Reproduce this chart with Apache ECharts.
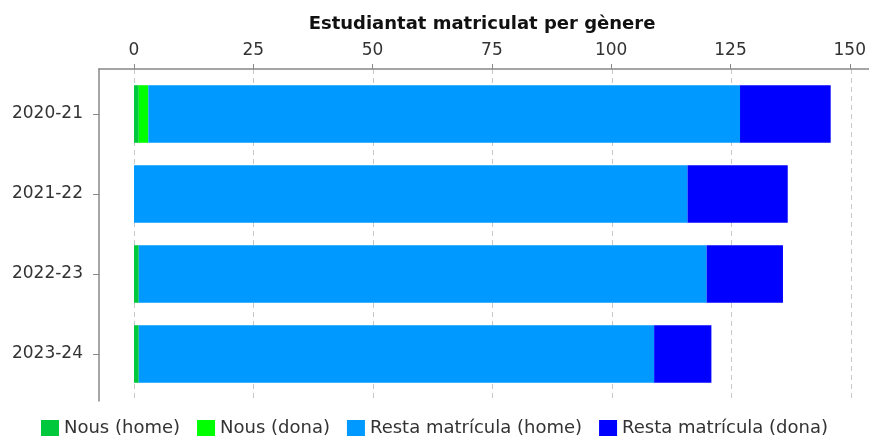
<!DOCTYPE html>
<html>
<head>
<meta charset="utf-8">
<script src="https://cdn.jsdelivr.net/npm/echarts@6/dist/echarts.min.js"></script>
<style>
  html, body { margin: 0; padding: 0; background: #fff; }
  #chart { width: 869px; height: 439px; }
</style>
</head>
<body>
<div id="chart"></div>
<script>
// dades
var years = ['2020-21', '2021-22', '2022-23', '2023-24']
var nousHome = [1, 0, 1, 1]
var nousDona = [2, 0, 0, 0]
var restaHome = [124, 116, 119, 108]
var restaDona = [19, 21, 16, 12]
var seriesNames = ['Nous (home)', 'Nous (dona)', 'Resta matrícula (home)', 'Resta matrícula (dona)']
var colors = ['#00c83c', '#00ff00', '#0099ff', '#0000ff']

var font = "'DejaVu Sans', 'Liberation Sans', Arial, sans-serif"
var myChart = echarts.init(document.getElementById('chart'))

function barSeries (i, data) {
  return {
    name: seriesNames[i],
    type: 'bar',
    stack: 'total',
    xAxisIndex: 0,
    yAxisIndex: 0,
    barCategoryGap: '28%',
    itemStyle: { color: colors[i] },
    data: data
  }
}

var option = {
  animation: false,
  textStyle: { fontFamily: font },
  title: {
    text: 'Estudiantat matriculat per gènere',
    left: 477,
    textAlign: 'center',
    top: 10,
    textStyle: { fontSize: 18, fontWeight: 'bold', color: '#111', fontFamily: font }
  },
  legend: {
    data: seriesNames,
    left: 'center',
    bottom: 2,
    padding: 0,
    icon: 'rect',
    itemWidth: 18,
    itemHeight: 16,
    itemGap: 17,
    textStyle: { fontSize: 18, color: '#333', fontFamily: font }
  },
  grid: [
    // dades
    { left: 134, right: 18, top: 74, bottom: 45 },
    // línies de quadrícula
    { left: 134, right: 18, top: 69, bottom: 38 },
    // marc
    { left: 99, right: 0, top: 69, bottom: 38 },
    // etiquetes de categoria
    { left: 99, right: 18, top: 74, bottom: 45 }
  ],
  xAxis: [
    {
      gridIndex: 0,
      type: 'value',
      position: 'top',
      offset: 5,
      min: 0,
      max: 150,
      interval: 25,
      axisLine: { show: false },
      axisTick: { show: true, length: 5, lineStyle: { color: '#888' } },
      axisLabel: { fontSize: 17, color: '#333', margin: 10 },
      splitLine: { show: false }
    },
    {
      gridIndex: 1,
      type: 'value',
      min: 0,
      max: 150,
      interval: 25,
      axisLine: { show: false },
      axisTick: { show: false },
      axisLabel: { show: false },
      splitLine: { show: true, lineStyle: { color: '#c8c8c8', type: [5, 4], width: 1 } }
    },
    {
      gridIndex: 2,
      type: 'value',
      position: 'top',
      min: 0,
      max: 1,
      axisLine: { show: true, onZero: false, lineStyle: { color: '#888', width: 1.5 } },
      axisTick: { show: false },
      axisLabel: { show: false },
      splitLine: { show: false }
    },
    { gridIndex: 3, type: 'value', show: false }
  ],
  yAxis: [
    {
      gridIndex: 0,
      type: 'category',
      data: years,
      inverse: true,
      axisLine: { show: false },
      axisTick: { show: false },
      axisLabel: { show: false }
    },
    { gridIndex: 1, type: 'value', show: false },
    {
      gridIndex: 2,
      type: 'value',
      min: 0,
      max: 1,
      axisLine: { show: true, onZero: false, lineStyle: { color: '#888', width: 1.5 } },
      axisTick: { show: false },
      axisLabel: { show: false },
      splitLine: { show: false }
    },
    {
      gridIndex: 3,
      type: 'category',
      data: years,
      inverse: true,
      axisLine: { show: false, onZero: false },
      axisTick: { show: true, length: 6, alignWithLabel: true, lineStyle: { color: '#888' } },
      axisLabel: { fontSize: 17, color: '#333', margin: 16 }
    }
  ],
  series: [
    barSeries(0, nousHome),
    barSeries(1, nousDona),
    barSeries(2, restaHome),
    barSeries(3, restaDona)
  ]
}

myChart.setOption(option)
</script>
</body>
</html>
